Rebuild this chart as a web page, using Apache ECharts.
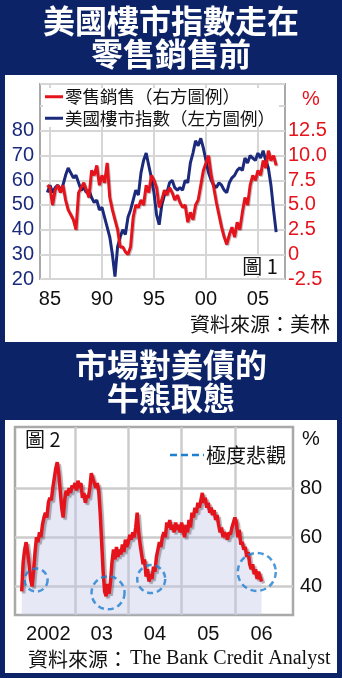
<!DOCTYPE html>
<html><head><meta charset="utf-8">
<script src="https://cdn.jsdelivr.net/npm/echarts@6/dist/echarts.min.js"></script>
<style>html,body{margin:0;padding:0;background:#0d2367;}#c{width:342px;height:678px;}</style>
</head><body><div id="c"></div>
<script>
// ---------- Chart 1 data (quarterly, from Q4 1984) ----------
const quarterStart = 1984.75;
const quarterStep = 0.25;
const housingIndex = [
  55,58,55,57,58,56,58,62,65,63,
  61,62,59,56,57,55,56,53,51,52,
  48,49,45,41,37,30,21,33,37,40,
  38,45,48,52,56,54,63,68,71,66,
  61,55,46,42,50,54,55,59,60,57,
  56,57,56,60,59,67,71,76,74,77,
  73,68,63,60,58,57,59,58,56,55,
  59,61,62,64,65,64,69,67,70,69,
  68,71,69,72,68,65,58,48,39
];
const retailSales = [
  7.0,6.75,5.0,6.5,7.0,6.25,7.0,5.5,4.5,4.0,
  3.5,2.5,6.25,6.75,7.25,6.5,5.75,8.5,8.0,9.0,
  7.0,8.0,7.25,9.25,5.75,4.5,3.5,2.5,0.75,0.75,
  0.25,0.0,0.75,3.75,5.0,4.75,5.5,5.0,7.0,6.25,
  8.0,7.5,6.75,4.75,5.5,6.5,6.0,6.75,6.25,5.5,
  6.0,5.25,4.75,5.0,3.25,4.25,3.5,5.0,5.5,7.0,
  8.5,9.25,10.0,8.0,6.75,5.25,4.0,2.75,1.75,1.0,
  2.0,2.75,1.75,3.25,2.5,4.25,5.75,5.0,7.0,8.0,
  7.5,8.5,8.0,9.5,8.75,10.5,9.5,10.0,9.0
];
const chart1TickYears = [1985,1990,1995,2000,2005];
const chart1TickLabels = ['85','90','95','00','05'];
const seriesNames1 = ['零售銷售（右方圖例）','美國樓市指數（左方圖例）'];

// ---------- Chart 2 data (about every 10 days, from start of 2002) ----------
const bondStart = 2002.0;
const bondStep = 1/36;
const bondBullish = [
  38,50,55,58,54,49,43,40,46,54,60,58,62,60,65,68,70,68,74,76,
  75,80,84,88,90.5,86,79,72,68,75,79,77,80,78,81,80,82,79,83,80,
  82,76,78,74,77,76,80,86,84,82,80,82,79,70,58,46,38,36,41,37,
  42,50,55,51,56,52,55,53,57,54,59,56,58,61,59,62,60,64,70,62,
  57,53,49,51,44,47,42,45,43,48,46,52,55,58,56,60,62,60,66,64,
  67,63,65,62,66,63,65,62,66,63,60,65,62,67,64,70,68,72,70,74,
  72,75,78,74,76,72,74,70,72,69,71,67,69,65,62,64,60,62,61,59,
  62,61,64,66,68,66,60,63,57,58,55,56,52,54,49,47,49,45,47,43,
  46,44,42
];
const bondLabelYears = [2002.5,2003.5,2004.5,2005.5,2006.5];
const bondTickLabels = ['2002','03','04','05','06'];
const bondGridYears = [2003,2004,2005,2006];
const bondGridValues = [40,60,80];
const extremeYears = [2002.27,2003.62,2004.43,2006.41];
const extremeValues = [42.6,37.4,43.0,45.9];

// ---------- styles ----------
const NAVY_BG = '#0d2367';
const BLUE = '#1c2a7c';
const RED = '#e5131b';
const GRID = '#d6d6d6';
const BORDER = '#a9a9a9';
const CIRCLE = '#1f80cf';
const circleSizes = [23,33,28,38];
const NUM_FONT = '"Liberation Sans", Arial, sans-serif';
const CJK_FONT = '"Noto Sans CJK TC", "Noto Sans", sans-serif';

const quarters = housingIndex.map((_, i) => quarterStart + i * quarterStep);
const housingData = housingIndex.map((v, i) => [quarters[i], v]);
const retailData = retailSales.map((v, i) => [quarterStart + i * quarterStep, v]);
const bondData = bondBullish.map((v, i) => [bondStart + i * bondStep, v]);
const extremeData = extremeYears.map((t, i) => [t, extremeValues[i]]);

const chart = echarts.init(document.getElementById('c'), null, {renderer: 'canvas'});

function txt(text, x, y, opts) {
  return {
    type: 'text', x: x, y: y, z: 100,
    style: Object.assign({
      text: text, fill: '#fff', align: 'center', verticalAlign: 'middle',
      font: 'bold 32px ' + CJK_FONT
    }, opts || {})
  };
}
const titleShadow = {textShadowColor: 'rgba(0,0,0,0.7)', textShadowOffsetX: 2, textShadowOffsetY: 2};

const option = {
  animation: false,
  backgroundColor: NAVY_BG,
  graphic: [
    {type: 'rect', z: -100, shape: {x: 5, y: 75, width: 332, height: 267}, style: {fill: '#fff'}},
    {type: 'rect', z: -100, shape: {x: 5, y: 420, width: 332, height: 253}, style: {fill: '#fff'}},
    txt('美國樓市指數走在', 171, 21, titleShadow),
    txt('零售銷售前', 171, 54, titleShadow),
    txt('市場對美債的', 171, 365, titleShadow),
    txt('牛熊取態', 171, 398, titleShadow),
    txt('%', 311, 99, {fill: RED, font: '20px ' + NUM_FONT}),
    txt('圖 1', 260, 266, {fill: '#111', font: '20px ' + CJK_FONT, backgroundColor: '#fff', padding: [0, 3]}),
    txt('資料來源：美林', 330, 324, {fill: '#111', align: 'right', font: '20px ' + CJK_FONT}),
    txt('圖 2', 25, 439, {fill: '#111', align: 'left', font: '20px ' + CJK_FONT}),
    txt('%', 311, 439, {fill: '#111', font: '20px ' + NUM_FONT}),
    {type: 'line', z: 100, shape: {x1: 170, y1: 455, x2: 204, y2: 455},
     style: {stroke: CIRCLE, lineWidth: 2.5, lineDash: [7, 4]}},
    txt('極度悲觀', 206, 455, {fill: '#111', align: 'left', font: '20px ' + CJK_FONT}),
    txt('資料來源：', 28, 659, {fill: '#111', align: 'left', font: '20px ' + CJK_FONT}),
    txt('The Bank Credit Analyst', 130, 659, {fill: '#111', align: 'left', font: '20px "Liberation Serif", "DejaVu Serif", serif'})
  ],
  legend: {
    data: seriesNames1,
    orient: 'vertical',
    left: 43, top: 88,
    itemGap: 4,
    itemWidth: 18, itemHeight: 3,
    icon: 'rect',
    backgroundColor: '#fff',
    padding: [0, 4, 0, 2],
    textStyle: {fontSize: 17.5, color: '#111', fontFamily: CJK_FONT, padding: [0, 0, 0, -3]}
  },
  grid: [
    {left: 40, top: 84, width: 245, height: 195, show: true, backgroundColor: '#fff',
     borderColor: BORDER, borderWidth: 2},
    {left: 15, top: 427, width: 278, height: 188, show: true, backgroundColor: '#fff',
     borderColor: BORDER, borderWidth: 2.5}
  ],
  xAxis: [
    {type: 'value', gridIndex: 0, min: 1984.04, max: 2007.6,
     axisLine: {show: false}, axisTick: {show: false, customValues: chart1TickYears},
     axisLabel: {customValues: chart1TickYears, margin: 10, color: '#111', fontSize: 20, fontFamily: NUM_FONT,
       formatter: v => chart1TickLabels[chart1TickYears.indexOf(Math.round(v))] || ''},
     splitLine: {show: true, lineStyle: {color: GRID, width: 2}}},
    {type: 'value', gridIndex: 1, min: 2001.874, max: 2007.09,
     axisLine: {show: false}, axisTick: {show: false, customValues: bondGridYears},
     axisLabel: {customValues: bondLabelYears, margin: 9, color: '#111', fontSize: 20, fontFamily: NUM_FONT,
       formatter: v => bondTickLabels[bondLabelYears.findIndex(y => Math.abs(y - v) < 0.01)] || ''},
     splitLine: {show: true, lineStyle: {color: '#cccccc', width: 2.5}}}
  ],
  yAxis: [
    {type: 'value', gridIndex: 0, position: 'left', min: 20, max: 99, interval: 10,
     axisLine: {show: false}, axisTick: {show: false},
     axisLabel: {margin: 6, color: BLUE, fontSize: 20, fontFamily: NUM_FONT,
       formatter: v => (v <= 80 ? String(v) : '')},
     splitLine: {show: true, lineStyle: {color: GRID, width: 2}}},
    {type: 'value', gridIndex: 0, position: 'right', min: -2.5, max: 17.25, interval: 2.5,
     axisLine: {show: false}, axisTick: {show: false},
     axisLabel: {margin: 3, color: RED, fontSize: 20, fontFamily: NUM_FONT,
       formatter: v => (v > 12.6 ? '' : (Math.abs(v) < 1e-9 ? '0' : v.toFixed(1)))},
     splitLine: {show: false}},
    {type: 'value', gridIndex: 1, position: 'right', min: 28.4, max: 104.8,
     axisLine: {show: false}, axisTick: {show: false, customValues: bondGridValues},
     axisLabel: {customValues: bondGridValues, margin: 7, color: '#111', fontSize: 20, fontFamily: NUM_FONT},
     splitLine: {show: true, lineStyle: {color: '#cccccc', width: 2.5}}}
  ],
  series: [
    {name: seriesNames1[0], type: 'line', xAxisIndex: 0, yAxisIndex: 1, data: retailData,
     showSymbol: false, color: RED, z: 3,
     lineStyle: {color: RED, width: 3, shadowColor: 'rgba(0,0,0,0.25)', shadowOffsetX: 1, shadowOffsetY: 1}},
    {name: seriesNames1[1], type: 'line', xAxisIndex: 0, yAxisIndex: 0, data: housingData,
     showSymbol: false, color: BLUE, z: 2,
     lineStyle: {color: BLUE, width: 3}},
    {name: '市場看好美債', type: 'line', xAxisIndex: 1, yAxisIndex: 2, data: bondData,
     showSymbol: false, color: RED, z: 3,
     lineStyle: {color: RED, width: 3.5, shadowColor: 'rgba(80,80,90,0.45)', shadowOffsetX: 2, shadowOffsetY: 2, shadowBlur: 1},
     areaStyle: {color: 'rgba(190,194,232,0.38)', opacity: 1}},
    {name: '極度悲觀', type: 'scatter', xAxisIndex: 1, yAxisIndex: 2, data: extremeData, z: 5,
     symbol: 'circle', symbolSize: (val, p) => circleSizes[p.dataIndex],
     itemStyle: {color: 'rgba(0,0,0,0)', borderColor: CIRCLE, borderWidth: 2.5, borderType: [6, 4]}}
  ]
};
chart.setOption(option);
</script></body></html>
